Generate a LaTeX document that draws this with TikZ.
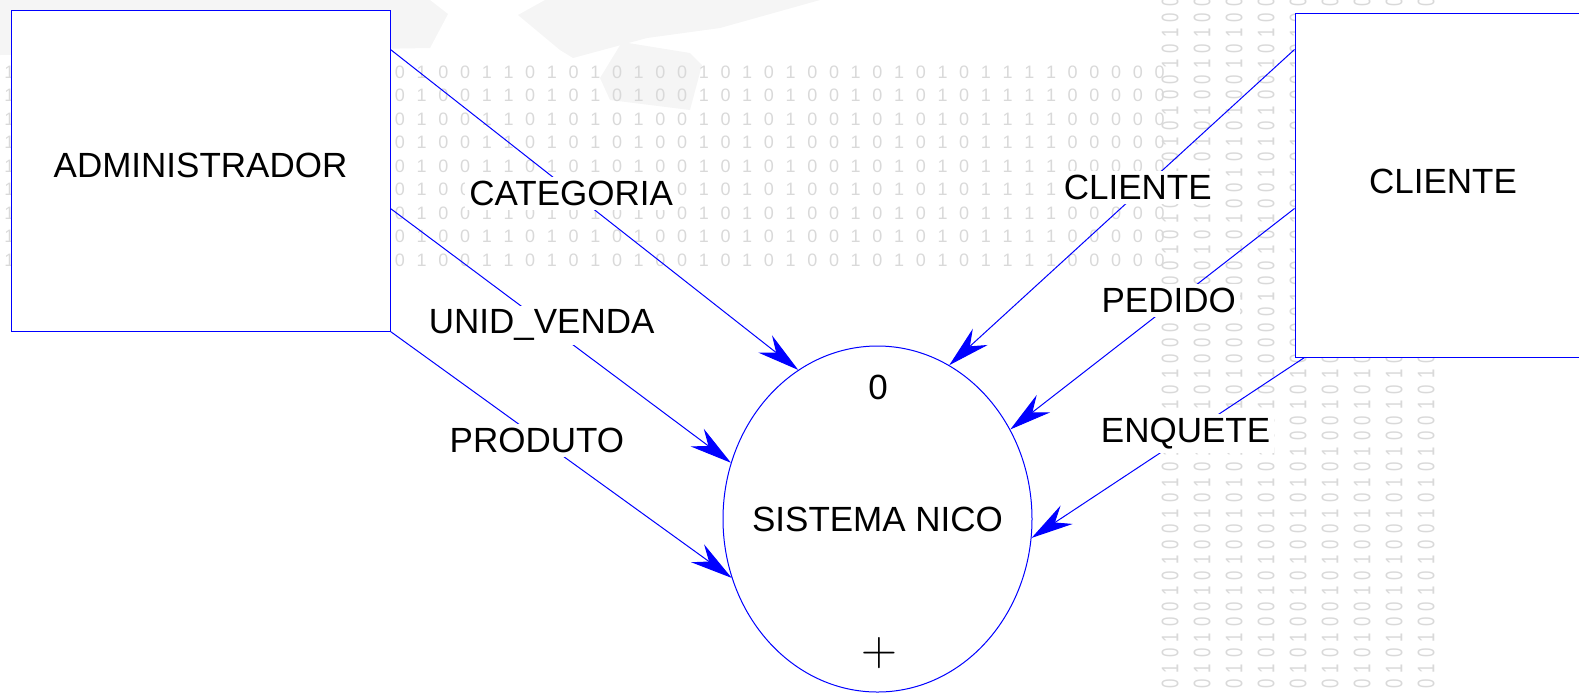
\documentclass[tikz,border=0pt]{standalone}
\usepackage{fontspec}
\setmainfont{Liberation Sans}
\usetikzlibrary{shapes.geometric,arrows.meta,calc}
\newcommand\dfdfont{\fontsize{17.5}{21}\selectfont}
\begin{document}
\begin{tikzpicture}[x=0.5pt,y=-0.5pt,
  box/.style={draw=blue, line width=0.5pt, fill=white, rectangle, inner sep=0pt, font=\dfdfont},
  proc/.style={ellipse, draw=blue, line width=0.5pt, fill=white, inner sep=0pt},
  flow/.style={draw=blue, color=blue, line width=0.5pt, -{Stealth[length=21pt,width=11pt,inset=7pt]}},
  lbl/.style={fill=white, text=black, draw=none, inner sep=2pt, font=\dfdfont},
  txt/.style={inner sep=0pt, font=\dfdfont},
  bgh/.style={inner sep=0pt, text=gray!30, font=\fontsize{9}{10}\selectfont},
  bgv/.style={inner sep=0pt, text=gray!30, rotate=90, font=\fontsize{12}{13}\selectfont},
  deco/.style={fill=gray!8, draw=none}]
\useasboundingbox (0,0) rectangle (1579,693);
% faint background decoration
\fill[deco] (0,0) -- (430,0) -- (448,14) -- (430,48) -- (0,55) -- cycle;
\fill[deco] (518,15) -- (545,0) -- (820,0) -- (720,28) -- (647,38) -- (573,58) -- (560,50) -- cycle;
\fill[deco] (600,78) -- (622,42) -- (690,53) -- (702,65) -- (690,110) -- (610,100) -- cycle;
\foreach \r in {0,...,8} {
  \foreach \d [count=\i from -18] in {1,0,1,0,0,1,1,0,1,0,1,0,1,0,0,1,0,0,
     0,1,0,0,1,1,0,1,0,1,0,1,0,0,1,0,1,0,1,0,0,1,0,1,0,1,0,1,1,1,1,0,0,0,0,0}
    \node[bgh] (h-\r-\i) at (400+21.7*\i, 72+23.5*\r) {\d};
}
\foreach \c in {0,...,8} {
  \foreach \d [count=\j from 0] in {0,0,1,0,1,0,0,1,0,1,0,1,0,0,1,0,1,0,0,1,0,0,0,0,1,0,1,0,0,1,0,1,0,1,0,0,1,0,1,0,0,1,0,1,0}
    \node[bgv] (v-\c-\j) at (1170+32*\c, 2+15.5*\j) {\scalebox{0.7}[1]{\d}};
}
% entities and process
\node[box, minimum width=189.5pt, minimum height=160.5pt] (admin) at (200.5,170.5) {\raisebox{5pt}{ADMINISTRADOR}};
\node[box, minimum width=148pt, minimum height=172pt] (client) at (1443,185) {\raisebox{4pt}{CLIENTE}};
\node[proc, minimum width=154.5pt, minimum height=173pt] (sys) at (877.5,519) {};
\node[txt] (systxt) at (sys.center) {SISTEMA NICO};
\node[txt] (num) at (878,387) {0};
\node[inner sep=0pt] (plus) at (879,653) {\fontsize{28}{32}\selectfont$+$};
% flows
\draw[flow] ($(admin.north east)+(0,40)$) -- node[lbl,pos=0.443,yshift=-1pt]{CATEGORIA} (sys.118.8);
\draw[flow] ($(admin.north east)+(0,199)$) -- node[lbl,pos=0.444,yshift=-2pt]{UNID\_VENDA} (sys.159.6);
\draw[flow] (admin.south east) -- node[lbl,pos=0.429,yshift=-1.5pt]{PRODUTO} (sys.202.8);
\draw[flow] ($(client.north west)+(0,37)$) -- node[lbl,pos=0.454,yshift=2.5pt]{CLIENTE} (sys.65.8);
\draw[flow] ($(client.north west)+(0,196)$) -- node[lbl,pos=0.4425,yshift=3pt]{PEDIDO} (sys.34.9);
\draw[flow] ($(client.south west)+(10,0)$) -- node[lbl,pos=0.436,yshift=1.5pt]{ENQUETE} (sys.-7.1);
\end{tikzpicture}
\end{document}
